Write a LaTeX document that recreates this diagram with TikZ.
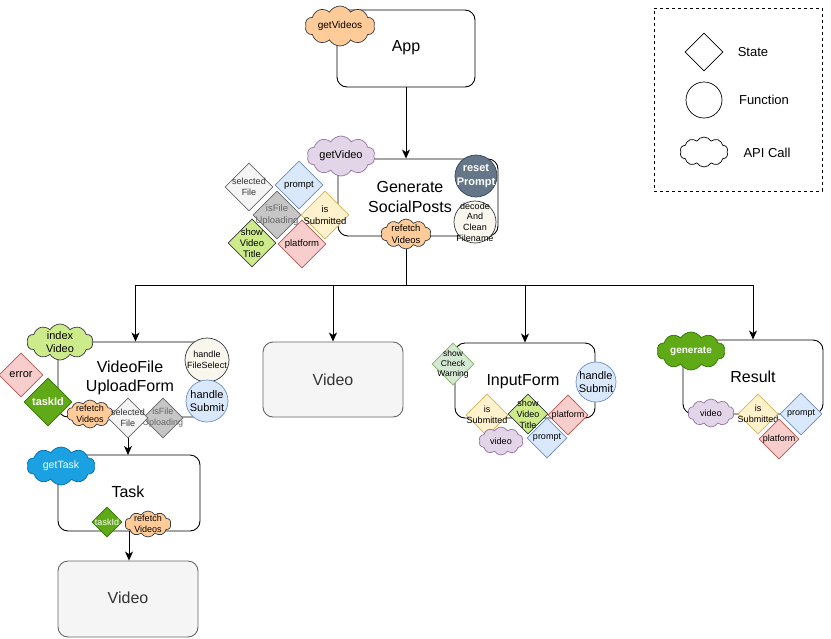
\documentclass[tikz,border=0pt]{standalone}
\usepackage{fontspec}
\setmainfont{Liberation Sans}
\usetikzlibrary{shapes.geometric,shapes.symbols,arrows.meta}
\definecolor{orF}{HTML}{FFCC99}\definecolor{orD}{HTML}{36393D}
\definecolor{puF}{HTML}{E1D5E7}\definecolor{puD}{HTML}{9673A6}
\definecolor{blF}{HTML}{DAE8FC}\definecolor{blD}{HTML}{6C8EBF}
\definecolor{yeF}{HTML}{FFF2CC}\definecolor{yeD}{HTML}{D6B656}
\definecolor{reF}{HTML}{F8CECC}\definecolor{reD}{HTML}{B85450}
\definecolor{lgF}{HTML}{CDEB8B}\definecolor{lgD}{HTML}{36393D}
\definecolor{sgF}{HTML}{D5E8D4}\definecolor{sgD}{HTML}{82B366}
\definecolor{glF}{HTML}{F5F5F5}\definecolor{glD}{HTML}{666666}
\definecolor{gdF}{HTML}{C6C6C6}\definecolor{gdD}{HTML}{666666}
\definecolor{slF}{HTML}{647687}\definecolor{slD}{HTML}{314354}
\definecolor{crF}{HTML}{F9F7ED}\definecolor{crD}{HTML}{36393D}
\definecolor{dgF}{HTML}{60A917}\definecolor{dgD}{HTML}{2D7600}
\definecolor{cyF}{HTML}{1BA1E2}\definecolor{cyD}{HTML}{006EAF}
\definecolor{txG}{HTML}{333333}
\tikzset{
  x=1pt,y=-1pt,
  f/.style={font=\pgfmathsetmacro\mylsk{#1*1.2}\fontsize{#1}{\mylsk}\selectfont},
  fb/.style={font=\pgfmathsetmacro\mylsk{#1*1.2}\fontsize{#1}{\mylsk}\selectfont\bfseries},
  box/.style={draw=black,line width=0.9pt,rounded corners=10pt,fill=white,inner sep=0pt},
  vbox/.style={draw=glD,line width=0.9pt,rounded corners=10pt,fill=glF,inner sep=0pt},
  st/.style={diamond,aspect=1,draw,line width=0.7pt,inner sep=0pt},
  fn/.style={circle,draw,line width=0.7pt,inner sep=0pt},
  api/.style={cloud,cloud puffs=10,cloud puff arc=120,draw,line width=0.7pt,inner sep=0pt},
  lbl/.style={align=center,inner sep=0pt},
  cOr/.style={fill=orF,draw=orD},
  cPu/.style={fill=puF,draw=puD},
  cBl/.style={fill=blF,draw=blD},
  cYe/.style={fill=yeF,draw=yeD},
  cRe/.style={fill=reF,draw=reD},
  cLg/.style={fill=lgF,draw=lgD},
  cSg/.style={fill=sgF,draw=sgD},
  cGl/.style={fill=glF,draw=glD},
  cGd/.style={fill=gdF,draw=gdD},
  cSl/.style={fill=slF,draw=slD},
  cCr/.style={fill=crF,draw=crD},
  cDg/.style={fill=dgF,draw=dgD},
  cCy/.style={fill=cyF,draw=cyD},
  cWh/.style={fill=white,draw=black},
  arr/.style={line width=1pt,-{Stealth[length=9pt,width=8pt,inset=2.5pt]}},
  ln/.style={line width=1pt},
}
% shape node + text node: style, name, x, y, size, colour, text, text style
\newcommand\Sh[8]{\node[#1,#6,minimum width=#5pt,minimum height=#5pt] (#2) at (#3,#4) {};
  \node[lbl,#8] (#2-t) at (#2.center) {#7};}
% cloud: name, x, y, w, h, colour, text, text style
\newcommand\Cl[8]{\node[api,#6,minimum width=#4pt,minimum height=#5pt] (#1) at (#2,#3) {};
  \node[lbl,#8] (#1-t) at (#1.center) {#7};}
\begin{document}
\begin{tikzpicture}
\useasboundingbox (0,0) rectangle (831,638);

% ---------- boxes ----------
\node[box,minimum width=138pt,minimum height=77pt] (app) at (406,48.5) {};
\node[lbl,f=16] (app-t) at (406,48) {App};
\node[box,minimum width=160pt,minimum height=77pt] (gen) at (418,197.5) {};
\node[lbl,f=16] (gen-t) at (410,197) {Generate\\SocialPosts};
\node[box,minimum width=155pt,minimum height=75pt] (vf) at (135.5,379.5) {};
\node[lbl,f=16] (vf-t) at (130,378) {VideoFile\\UploadForm};
\node[vbox,minimum width=140pt,minimum height=75pt] (vid1) at (333,379.5) {};
\node[lbl,f=16,text=txG] (vid1-t) at (333,380) {Video};
\node[box,minimum width=140pt,minimum height=75pt] (inp) at (525,380.5) {};
\node[lbl,f=16] (inp-t) at (523,382) {InputForm};
\node[box,minimum width=140pt,minimum height=74pt] (res) at (753,377) {};
\node[lbl,f=16] (res-t) at (753,377) {Result};
\node[box,minimum width=142pt,minimum height=76pt] (task) at (129,493) {};
\node[lbl,f=16] (task-t) at (128,492) {Task};
\node[vbox,minimum width=140pt,minimum height=76pt] (vid2) at (128,599) {};
\node[lbl,f=16,text=txG] (vid2-t) at (128,598) {Video};

% ---------- connectors ----------
\coordinate (bus) at (406,285);
\draw[arr] (app.south) -- (app.south |- gen.north);
\draw[ln] (406,236) -- (bus);
\draw[arr] (bus) -| (vf.north);
\draw[arr] (bus) -| (vid1.north);
\draw[arr] (bus) -| (inp.north);
\draw[arr] (bus) -| (res.north);
\draw[arr] (128,417) -- (128,455);
\draw[arr] (task.south) -- (task.south |- vid2.north);

% ---------- App ----------
\Cl{aGV}{340}{26}{70}{40}{cOr}{getVideos}{f=10}

% ---------- GenerateSocialPosts ----------
\Cl{gGV}{341}{156}{68}{40}{cPu}{getVideo}{f=11}
\Sh{fn}{gRP}{476}{176}{42}{cSl}{reset\\Prompt}{fb=11,text=white}
\Sh{fn}{gDC}{475}{222}{42}{cCr}{decode\\And\\Clean\\Filename}{font=\fontsize{9}{10.7}\selectfont}
\Cl{gRV}{406}{234}{50}{30}{cOr}{refetch\\Videos}{f=9.5}
\Sh{st}{gSF}{249}{187}{48}{cGl}{selected\\File}{f=9,text=txG}
\Sh{st}{gPR}{299}{185}{48}{cBl}{prompt}{f=9.5}
\Sh{st}{gFU}{277}{215}{48}{cGd}{isFile\\Uploading}{f=9.5,text=glD}
\Sh{st}{gIS}{325}{215}{48}{cYe}{is\\Submitted}{f=9.5}
\Sh{st}{gSV}{252}{243}{48}{cLg}{show\\Video\\Title}{f=9.5}
\Sh{st}{gPL}{302}{244}{48}{cRe}{platform}{f=9.5}

% ---------- VideoFileUploadForm ----------
\Cl{vIV}{60}{342}{66}{36}{cLg}{index\\Video}{f=11}
\Sh{st}{vER}{21}{375}{44}{cRe}{error}{f=11}
\Sh{st}{vTI}{48}{402}{48}{cDg}{taskId}{fb=11,text=white}
\Cl{vRV}{90}{414}{46}{28}{cOr}{refetch\\Videos}{f=9}
\Sh{st}{vFU}{163}{418}{40}{cGd}{isFile\\Uploading}{f=9,text=glD}
\Sh{st}{vSF}{128}{418}{40}{cGl}{selected\\File}{f=9,text=txG}
\Sh{fn}{vHF}{207}{360}{44}{cCr}{handle\\FileSelect}{f=9}
\Sh{fn}{vHS}{207}{401}{42}{cBl}{handle\\Submit}{f=11}

% ---------- Task ----------
\Cl{tGT}{61}{466}{68}{38}{cCy}{getTask}{f=10.5,text=white}
\Sh{st}{tTI}{107}{522}{30}{cDg}{taskId}{f=9,text=white}
\Cl{tRV}{148}{524}{46}{26}{cOr}{refetch\\Videos}{f=9}

% ---------- InputForm ----------
\Sh{st}{iCW}{453}{364}{42}{cSg}{show\\Check\\Warning}{f=8.5}
\Sh{fn}{iHS}{596}{382}{40}{cBl}{handle\\Submit}{f=11}
\Sh{st}{iIS}{487}{415}{42}{cYe}{is\\Submitted}{f=9}
\Sh{st}{iSV}{528}{414}{40}{cLg}{show\\Video\\Title}{f=9}
\Sh{st}{iPL}{568}{415}{40}{cRe}{platform}{f=9}
\Cl{iVD}{501}{441}{44}{28}{cPu}{video}{f=9}
\Sh{st}{iPR}{547}{438}{40}{cBl}{prompt}{f=9}

% ---------- Result ----------
\Cl{rGE}{691}{351}{68}{38}{cDg}{generate}{fb=10,text=white}
\Cl{rVD}{711}{413}{46}{28}{cPu}{video}{f=9}
\Sh{st}{rIS}{758}{414}{40}{cYe}{is\\Submitted}{f=9}
\Sh{st}{rPR}{801}{414}{42}{cBl}{prompt}{f=9}
\Sh{st}{rPL}{779}{439}{40}{cRe}{platform}{f=9}

% ---------- legend ----------
\node[draw=black,line width=0.8pt,dash pattern=on 3pt off 3pt,minimum width=168pt,minimum height=183pt,inner sep=0pt] (leg) at (738,99.5) {};
\node[st,cWh,minimum width=38pt,minimum height=38pt] (lS) at (704,52) {};
\node[lbl,f=13] (lS-t) at (753,52) {State};
\node[fn,cWh,minimum width=36pt] (lF) at (704,100) {};
\node[lbl,f=13] (lF-t) at (764,100) {Function};
\node[api,cWh,minimum width=48pt,minimum height=30pt] (lA) at (704,152) {};
\node[lbl,f=13] (lA-t) at (767,153) {API Call};
\end{tikzpicture}
\end{document}
